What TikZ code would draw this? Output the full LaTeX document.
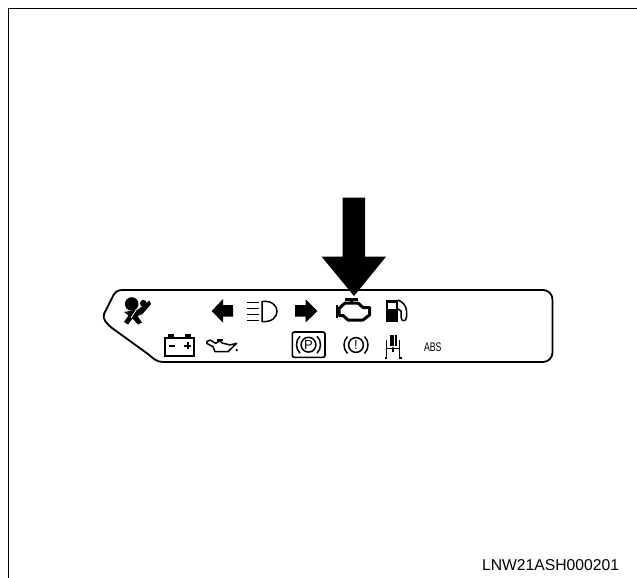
\documentclass[tikz,border=0pt]{standalone}
\usepackage{fontspec}
\setmainfont{Liberation Sans}
\usetikzlibrary{positioning}

\begin{document}
\begin{tikzpicture}[
  x=1pt, y=-1pt,
  frameline/.style={line width=1pt},
  icon/.style={line width=2pt},
  thinicon/.style={line width=1.5pt},
  caption/.style={inner sep=0pt, anchor=base east}
]
\useasboundingbox (0,0) rectangle (637,578);
% frame
\draw[frameline] (8.3,578) -- (8.3,8.3) -- (637,8.3);
% panel
\draw[line width=1.8pt] (122,290) -- (543,290) arc[start angle=-90, end angle=0, radius=9.5]
  -- (552.5,352.5) arc[start angle=0, end angle=90, radius=9.5] -- (163,362)
  .. controls (156,362) and (153,358) .. (148,354) -- (112,328)
  .. controls (107,324) and (102,319) .. (104,314) -- (112,298)
  .. controls (114,293) and (117,290) .. (122,290) -- cycle;
% big arrow
\fill (342.7,197.5) -- (365,197.5) -- (365,256.7) -- (386,256.7) -- (354,296) -- (321.7,256.7) -- (342.7,256.7) -- cycle;
% airbag
\fill (131.7,304) circle[radius=6.8];
\fill (143.3,303.3) circle[radius=3.4];
\fill (124,312) -- (138,309.5) -- (149.5,300.5) -- (151,304) -- (142.5,314) -- (137.5,316)
  -- (142,322.5) -- (138,324.5) -- (132.5,318.5) -- (128,324.5) -- (124,322) -- (128.5,315.5) -- cycle;
\draw[white, line width=.8pt] (136.5,309.5) -- (131,318);
% left arrow
\fill (211.7,311) -- (223,299) -- (223,305) -- (233,305) -- (233,316.7) -- (223,316.7) -- (223,322.7) -- cycle;
% headlight
\foreach \ypos in {302.5,308.5,314.5,320.5}
  \draw[thinicon] (247,\ypos) -- (259,\ypos);
\draw[thinicon] (262,301.5) .. controls (282,299) and (282,323.5) .. (262,321.5) -- cycle;
% right arrow
\fill (317.3,311) -- (305.7,299.3) -- (305.7,305) -- (295,305) -- (295,316.5) -- (305.7,316.5) -- (305.7,322.5) -- cycle;
% engine
\draw[line width=3pt, line join=round] (339,308.5) -- (345,303) -- (358,303) -- (363,307.5) -- (369.5,307.5) -- (369.5,315)
  -- (363,320) -- (348,320) -- (343,315.5) -- (339,315.5) -- cycle;
\draw[line width=2.8pt] (345,299.2) -- (358,299.2) (351.5,299.2) -- (351.5,303);
\draw[line width=2.4pt] (337.2,304.5) -- (337.2,318);
% fuel pump
\fill (386,300) rectangle (398,322);
\fill[white] (388.3,302.5) rectangle (395.7,309);
\draw[thinicon] (398,300) .. controls (403,302) and (406.5,306) .. (406.5,311)
  -- (406.5,317) .. controls (406.5,322) and (401,322) .. (401,317) -- (401,311) -- (398,309);
% battery
\draw[icon] (164.5,337.5) rectangle (194,355.5);
\fill (167.7,333.8) rectangle (174,337.5);
\fill (184.5,333.8) rectangle (191,337.5);
\draw[icon] (168.5,345.7) -- (175,345.7);
\draw[icon] (184,345.7) -- (191,345.7) (187.5,342.3) -- (187.5,349.2);
% oil can
\draw[thinicon, line join=round] (206.7,341.7) -- (210,340) -- (215.7,343.3) -- (220,340.7) -- (222,343) -- (230,345) -- (236.7,343.3)
  -- (228,351.7) -- (215,351.7) -- (213,346.7) -- (207,343.5) -- cycle;
\draw[thinicon] (216.5,339.8) -- (222.5,339.8);
\fill (236.7,350) circle[radius=1.3];
% parking brake
\draw[line width=1.6pt, rounded corners=2pt] (292.3,332) rectangle (325,357.3);
\draw[thinicon] (308.5,344.7) circle[radius=7.4];
\draw[thinicon] (300,336.2) arc[start angle=-135, end angle=-225, radius=12];
\draw[thinicon] (317,336.2) arc[start angle=-45, end angle=45, radius=12];
\node[font=\fontsize{13}{14}\selectfont, inner sep=0pt] (parktext) at (308.5,344.7) {P};
% brake warning
\draw[thinicon] (356,345) circle[radius=7.4];
\draw[thinicon] (347.5,336.5) arc[start angle=-135, end angle=-225, radius=12];
\draw[thinicon] (364.5,336.5) arc[start angle=-45, end angle=45, radius=12];
\node[font=\fontsize{13}{14}\selectfont, inner sep=0pt] (braketext) at (356,345) {!};
% seat icon
\fill (389.5,335) rectangle (391.5,345.5);
\fill (392.2,335) rectangle (394.2,345.5);
\fill (394.9,335) rectangle (396.9,345.5);
\draw[thinicon] (386.5,339.5) -- (386.5,358) -- (384.5,358);
\draw[thinicon] (399.5,339.5) -- (399.5,358) -- (401.5,358);
\draw[thinicon] (386.5,348.5) -- (399.5,348.5) (393,348.5) -- (393,352);
\fill (393,348.5) circle[radius=1.6];
% texts
\node[inner sep=0pt, font=\fontsize{12.5}{13}\selectfont] (abstext) at (432.8,347.2) {\scalebox{.7}[1]{ABS}};
\node[caption, font=\fontsize{15.7}{16}\selectfont] (partnumber) at (619.3,570.5) {LNW21ASH000201};
\end{tikzpicture}
\end{document}
